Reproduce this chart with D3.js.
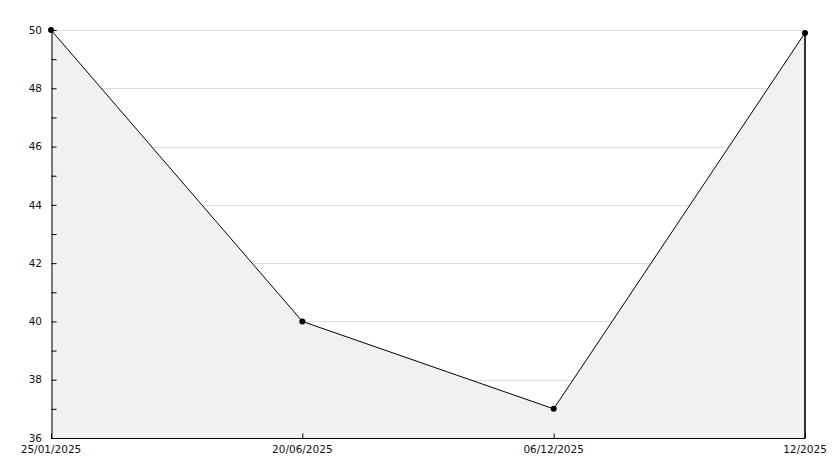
<!DOCTYPE html>
<html>
<head>
<meta charset="utf-8">
<script src="https://cdn.jsdelivr.net/npm/d3@7"></script>
<style>
  html, body { margin: 0; padding: 0; background: #fff; }
  svg { display: block; }
  text { font-family: "DejaVu Sans", sans-serif; font-size: 10.5px; fill: #111; }
</style>
</head>
<body>
<svg id="chart" width="834" height="468"></svg>
<script>
const categories = ["25/01/2025", "20/06/2025", "06/12/2025", "12/2025"];
const values = [50, 40, 37, 49.9];
const yTicks = [36, 38, 40, 42, 44, 46, 48, 50];
const yMinorTicks = [36, 37, 38, 39, 40, 41, 42, 43, 44, 45, 46, 47, 48, 49, 50];

(function () {
const svg = d3.select("#chart");
const mLeft = 51, mRight = 805, mTop = 30, mBottom = 438;

const x = d3.scalePoint().domain(categories).range([mLeft, mRight]);
const y = d3.scaleLinear().domain([36, 50]).range([mBottom, mTop]);

const data = categories.map((c, i) => ({ c, v: values[i] }));

// gridlines
svg.append("g").selectAll("line").data(yTicks).join("line")
  .attr("x1", mLeft).attr("x2", mRight)
  .attr("y1", d => Math.round(y(d)) + 0.5).attr("y2", d => Math.round(y(d)) + 0.5)
  .attr("stroke", "#dcdcdc").attr("stroke-width", 1);

// area
const area = d3.area().x(d => x(d.c)).y0(y(36)).y1(d => y(d.v));
svg.append("path").datum(data).attr("d", area).attr("fill", "#f1f1f1");

// right edge line
const last = data[data.length - 1];
svg.append("line")
  .attr("x1", x(last.c)).attr("x2", x(last.c))
  .attr("y1", y(last.v)).attr("y2", mBottom)
  .attr("stroke", "#000").attr("stroke-width", 1.6);

// line
const line = d3.line().x(d => x(d.c)).y(d => y(d.v));
svg.append("path").datum(data).attr("d", line)
  .attr("fill", "none").attr("stroke", "#000").attr("stroke-width", 1);

// markers
svg.append("g").selectAll("circle").data(data).join("circle")
  .attr("cx", d => x(d.c)).attr("cy", d => y(d.v)).attr("r", 3)
  .attr("fill", "#000");

// y axis
const yAxis = d3.axisRight(y).tickValues(yMinorTicks).tickSize(5).tickFormat("");
const ya = svg.append("g").attr("transform", `translate(${mLeft + 0.5},0)`).call(yAxis);
ya.select(".domain").attr("stroke", "#000");
ya.selectAll(".tick line").attr("stroke", "#000");

svg.append("g").selectAll("text").data(yTicks).join("text")
  .attr("x", mLeft - 9).attr("y", d => y(d))
  .attr("dy", "0.35em").attr("text-anchor", "end")
  .text(d => d);

// x axis
const xAxis = d3.axisTop(x).tickSize(5).tickFormat("");
const xa = svg.append("g").attr("transform", `translate(0,${mBottom + 0.5})`).call(xAxis);
xa.select(".domain").attr("d", `M${mLeft},0H${mRight}`).attr("stroke", "#000");
xa.selectAll(".tick line").attr("stroke", "#000");

svg.append("g").selectAll("text").data(categories).join("text")
  .attr("x", d => x(d)).attr("y", mBottom + 15)
  .attr("text-anchor", "middle")
  .text(d => d);
})();
</script>
</body>
</html>
